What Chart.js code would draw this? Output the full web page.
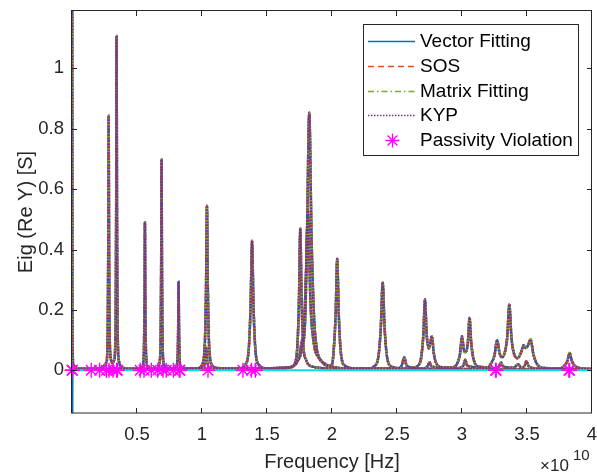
<!DOCTYPE html>
<html>
<head>
<meta charset="utf-8">
<title>Eig (Re Y)</title>
<script src="https://cdn.jsdelivr.net/npm/chart.js@4.4.1/dist/chart.umd.min.js"></script>
<style>
  html, body { margin: 0; padding: 0; background: #fff; }
  #wrap { width: 597px; height: 472px; }
</style>
</head>
<body>
<div id="wrap"><canvas id="eig-chart" width="597" height="472"></canvas></div>
<script>
// frequency values are in units of 1e10 Hz (axis shows x10^10)
const xTicks = [0.5, 1, 1.5, 2, 2.5, 3, 3.5, 4];
const yTicks = [0, 0.2, 0.4, 0.6, 0.8, 1];

// eigenvalue curve 1 (main resonances)
const eig1Freq = [
  0, 0.003, 0.01, 0.05, 0.2,
  0.264, 0.2745, 0.279, 0.282, 0.285, 0.2895, 0.300,
  0.312,
  0.325, 0.3355, 0.340, 0.343, 0.346, 0.3505, 0.361, 0.39,
  0.45, 0.53,
  0.543, 0.5535, 0.558, 0.561, 0.564, 0.5685, 0.579,
  0.62, 0.66,
  0.671, 0.6815, 0.686, 0.689, 0.692, 0.6965, 0.707,
  0.75, 0.795,
  0.802, 0.8125, 0.817, 0.82, 0.823, 0.8275, 0.838,
  0.9, 0.98,
  1.0, 1.0205, 1.031, 1.038, 1.045, 1.0555, 1.08,
  1.15, 1.30,
  1.33, 1.3575, 1.374, 1.385, 1.396, 1.4125, 1.44,
  1.5, 1.6, 1.7,
  1.725, 1.78, 1.807, 1.825, 1.843, 1.87, 1.925, 1.98,
  2.0, 2.01, 2.028, 2.04, 2.052, 2.07, 2.10, 2.2,
  2.3,
  2.32, 2.355, 2.376, 2.39, 2.404, 2.425, 2.46, 2.55,
  2.62,
  2.66, 2.685, 2.703, 2.715, 2.728, 2.746, 2.769, 2.782, 2.80, 2.85,
  2.93,
  2.96, 2.985, 3.0, 3.013, 3.025, 3.045, 3.058, 3.071, 3.09, 3.13,
  3.2,
  3.22, 3.25, 3.27, 3.29, 3.31, 3.335, 3.348, 3.364, 3.38, 3.40, 3.43,
  3.455, 3.474, 3.49, 3.505, 3.528, 3.548, 3.575, 3.62,
  3.75,
  3.78, 3.81, 3.828, 3.846, 3.876, 3.95, 4.0
];
const eig1Val = [
  3.0, 0.15, 0.02, 0.006, 0.005,
  0.025, 0.12, 0.42, 0.843, 0.42, 0.12, 0.035,
  0.024,
  0.035, 0.15, 0.55, 1.107, 0.55, 0.15, 0.03, 0.009,
  0.005, 0.007,
  0.014, 0.068, 0.245, 0.49, 0.245, 0.068, 0.014,
  0.006, 0.008,
  0.019, 0.097, 0.35, 0.698, 0.35, 0.097, 0.019,
  0.006, 0.008,
  0.012, 0.045, 0.147, 0.293, 0.147, 0.045, 0.012,
  0.005, 0.008,
  0.018, 0.075, 0.27, 0.545, 0.27, 0.075, 0.015,
  0.005, 0.007,
  0.017, 0.059, 0.215, 0.429, 0.215, 0.059, 0.017,
  0.006, 0.007, 0.013,
  0.025, 0.12, 0.43, 0.853, 0.43, 0.12, 0.028, 0.014,
  0.02, 0.05, 0.185, 0.369, 0.185, 0.051, 0.015, 0.005,
  0.006,
  0.012, 0.04, 0.146, 0.291, 0.146, 0.04, 0.012, 0.006,
  0.008,
  0.015, 0.04, 0.12, 0.235, 0.12, 0.073, 0.113, 0.06, 0.025, 0.01,
  0.01,
  0.02, 0.055, 0.113, 0.07, 0.06, 0.09, 0.175, 0.09, 0.035, 0.012,
  0.01,
  0.02, 0.05, 0.10, 0.055, 0.043, 0.07, 0.11, 0.218, 0.11, 0.055, 0.04,
  0.06, 0.083, 0.074, 0.08, 0.102, 0.055, 0.022, 0.008,
  0.006,
  0.012, 0.03, 0.057, 0.03, 0.012, 0.005, 0.004
];

// eigenvalue curve 2 (small bumps + peak near 1.756)
const eig2Freq = [
  0, 0.9, 1.01, 1.024, 1.032, 1.04, 1.055,
  1.3, 1.68, 1.72, 1.735, 1.746, 1.756, 1.766, 1.78, 1.80, 1.85,
  2.0, 2.5, 2.535, 2.556, 2.575,
  2.70, 2.735, 2.75, 2.765,
  2.95, 3.01, 3.025, 3.04,
  3.25, 3.285, 3.30, 3.315,
  3.40, 3.43, 3.455, 3.48, 3.495, 3.515,
  3.6, 4.0
];
const eig2Val = [
  0.004, 0.005, 0.01, 0.03, 0.077, 0.03, 0.01,
  0.005, 0.01, 0.03, 0.09, 0.235, 0.47, 0.235, 0.08, 0.035, 0.012,
  0.006, 0.006, 0.015, 0.042, 0.015,
  0.006, 0.013, 0.027, 0.013,
  0.006, 0.015, 0.035, 0.015,
  0.006, 0.013, 0.026, 0.013,
  0.008, 0.02, 0.01, 0.013, 0.03, 0.012,
  0.005, 0.004
];

// eigenvalue curve 3 (peak near 1.815)
const eig3Freq = [0, 1.6, 1.72, 1.755, 1.77, 1.78, 1.795, 1.815, 1.835, 1.86, 1.9, 1.95, 2.0, 2.1, 4.0];
const eig3Val = [0.003, 0.006, 0.02, 0.06, 0.10, 0.095, 0.19, 0.53, 0.22, 0.09, 0.04, 0.02, 0.012, 0.006, 0.003];

// vector fitting only: negative dip at dc
const vfEdgeFreq = [0, 0.002, 0.008];
const vfEdgeVal = [-1.0, -0.03, 0.0];

// smallest eigenvalue (cyan trace along zero)
const minEigFreq = [0, 4];
const minEigVal = [0, 0];

// passivity violation locations
const violFreq = [0, 0.004, 0.148, 0.212, 0.264, 0.285, 0.315, 0.343, 0.349, 0.525, 0.554, 0.61, 0.66,
  0.70, 0.725, 0.78, 0.825, 0.831, 1.046, 1.315, 1.38, 1.41, 3.258, 3.263, 3.822, 3.828];
const violVal = [0, 0, 0, 0, 0, 0, 0, 0, 0, 0, 0, 0, 0,
  0, 0, 0, 0, 0, 0, 0, 0, 0, 0, 0, 0, 0];

const FONT = "'Liberation Sans', Arial, Helvetica, sans-serif";
const axisColor = '#262626';
const violColor = '#FF00FF';

const methods = [
  { label: 'Vector Fitting', color: '#0072BD', dash: [], order: 5 },
  { label: 'SOS', color: '#D95319', dash: [6, 4], order: 4 },
  { label: 'Matrix Fitting', color: '#77AC30', dash: [6, 3, 1.5, 3], order: 3 },
  { label: 'KYP', color: '#7E2F8E', dash: [1.5, 1.5], order: 2 }
];

function pts(fs, vs) {
  return fs.map((f, i) => ({ x: f, y: vs[i] }));
}

function lineSet(m, data) {
  return {
    label: m.label,
    data: data,
    borderColor: m.color,
    borderDash: m.dash,
    borderWidth: 2.5,
    pointRadius: 0,
    fill: false,
    cubicInterpolationMode: 'monotone',
    order: m.order
  };
}

const curves = [[eig1Freq, eig1Val], [eig2Freq, eig2Val], [eig3Freq, eig3Val]];
const datasets = [];
methods.forEach(m => {
  curves.forEach(c => datasets.push(lineSet(m, pts(c[0], c[1]))));
  if (m.label === 'Vector Fitting') datasets.push(lineSet(m, pts(vfEdgeFreq, vfEdgeVal)));
});
datasets.push({
  label: 'min eig',
  data: pts(minEigFreq, minEigVal),
  borderColor: 'rgb(0,228,232)',
  borderWidth: 2,
  pointRadius: 0,
  order: 1
});
datasets.push({
  label: 'Passivity Violation',
  data: pts(violFreq, violVal),
  showLine: false,
  pointStyle: 'star',
  pointRadius: 7.5,
  pointBorderColor: violColor,
  pointBackgroundColor: violColor,
  pointBorderWidth: 1.4,
  clip: false,
  order: 0
});

// box, inward ticks, exponent label
const axesBox = {
  id: 'axesBox',
  afterDraw(chart) {
    const { ctx, chartArea: a, scales } = chart;
    const x = scales.x, y = scales.y;
    ctx.save();
    ctx.strokeStyle = axisColor;
    ctx.lineWidth = 1;
    ctx.setLineDash([]);
    ctx.strokeRect(a.left - 0.5, a.top - 0.5, a.right - a.left, a.bottom - a.top + 0.5);
    ctx.beginPath();
    xTicks.forEach(v => {
      const px = Math.round(x.getPixelForValue(v)) - 0.5;
      ctx.moveTo(px, a.bottom); ctx.lineTo(px, a.bottom - 5);
      ctx.moveTo(px, a.top); ctx.lineTo(px, a.top + 5);
    });
    yTicks.forEach(v => {
      const py = Math.round(y.getPixelForValue(v)) + 0.5;
      ctx.moveTo(a.left, py); ctx.lineTo(a.left + 5, py);
      ctx.moveTo(a.right, py); ctx.lineTo(a.right - 5, py);
    });
    ctx.stroke();

    ctx.fillStyle = axisColor;
    ctx.textBaseline = 'alphabetic';
    ctx.textAlign = 'left';
    ctx.font = '17px ' + FONT;
    ctx.fillText('\u00d710', 540, 471);
    ctx.font = '15px ' + FONT;
    ctx.fillText('10', 573, 460);
    ctx.restore();
  }
};

// legend box in the upper right corner
const boxLegend = {
  id: 'boxLegend',
  afterDraw(chart) {
    const ctx = chart.ctx;
    const L = 363.5, T = 24.5, R = 578.5, B = 155.5;
    ctx.save();
    ctx.fillStyle = '#fff';
    ctx.fillRect(L, T, R - L, B - T);
    ctx.strokeStyle = axisColor;
    ctx.lineWidth = 1;
    ctx.strokeRect(L, T, R - L, B - T);

    const rows = methods.map(m => ({ text: m.label, m: m }));
    rows.push({ text: 'Passivity Violation' });
    ctx.font = '19px ' + FONT;
    ctx.textBaseline = 'middle';
    ctx.textAlign = 'left';
    rows.forEach((r, i) => {
      const yy = Math.round(41 + i * 24.75) + 0.5;
      if (r.m) {
        ctx.strokeStyle = r.m.color;
        ctx.setLineDash(r.m.dash);
        ctx.lineWidth = 1.5;
        ctx.beginPath();
        ctx.moveTo(368, yy); ctx.lineTo(415, yy);
        ctx.stroke();
      } else {
        const cx = 392.5, cy = yy, rr = 7, d = rr * Math.SQRT1_2;
        ctx.setLineDash([]);
        ctx.strokeStyle = violColor;
        ctx.lineWidth = 1.3;
        ctx.beginPath();
        ctx.moveTo(cx - rr, cy); ctx.lineTo(cx + rr, cy);
        ctx.moveTo(cx, cy - rr); ctx.lineTo(cx, cy + rr);
        ctx.moveTo(cx - d, cy - d); ctx.lineTo(cx + d, cy + d);
        ctx.moveTo(cx - d, cy + d); ctx.lineTo(cx + d, cy - d);
        ctx.stroke();
      }
      ctx.fillStyle = '#000';
      ctx.fillText(r.text, 420, yy);
    });
    ctx.restore();
  }
};

new Chart(document.getElementById('eig-chart').getContext('2d'), {
  type: 'line',
  data: { datasets: datasets },
  options: {
    responsive: false,
    animation: false,
    events: [],
    layout: { autoPadding: false, padding: { left: 0, right: 5, top: 11, bottom: 0 } },
    plugins: {
      legend: { display: false },
      tooltip: { enabled: false }
    },
    scales: {
      x: {
        type: 'linear',
        min: 0,
        max: 4,
        afterBuildTicks: s => { s.ticks = xTicks.map(v => ({ value: v })); },
        afterFit: s => {
          s.height = 59;
          s.paddingLeft = 0; s.paddingRight = 0; s.paddingTop = 0; s.paddingBottom = 0;
        },
        grid: { display: false, drawTicks: false },
        border: { display: false },
        ticks: {
          padding: 11,
          color: axisColor,
          font: { family: FONT, size: 18.5 },
          maxRotation: 0,
          autoSkip: false,
          callback: v => String(v)
        },
        title: {
          display: true,
          text: 'Frequency [Hz]',
          color: axisColor,
          font: { family: FONT, size: 20, lineHeight: 1 },
          padding: { top: 0, bottom: 0 }
        }
      },
      y: {
        min: -0.1415,
        max: 1.19,
        afterBuildTicks: s => { s.ticks = yTicks.map(v => ({ value: v })); },
        afterFit: s => {
          s.width = 72;
          s.paddingLeft = 0; s.paddingRight = 0; s.paddingTop = 0; s.paddingBottom = 0;
        },
        grid: { display: false, drawTicks: false },
        border: { display: false },
        ticks: {
          padding: 8,
          color: axisColor,
          font: { family: FONT, size: 18.5 },
          autoSkip: false,
          callback: v => String(v)
        },
        title: {
          display: true,
          text: 'Eig (Re Y) [S]',
          color: axisColor,
          font: { family: FONT, size: 20, lineHeight: 1 },
          padding: { top: 16, bottom: 0 }
        }
      }
    }
  },
  plugins: [axesBox, boxLegend]
});
</script>
</body>
</html>
